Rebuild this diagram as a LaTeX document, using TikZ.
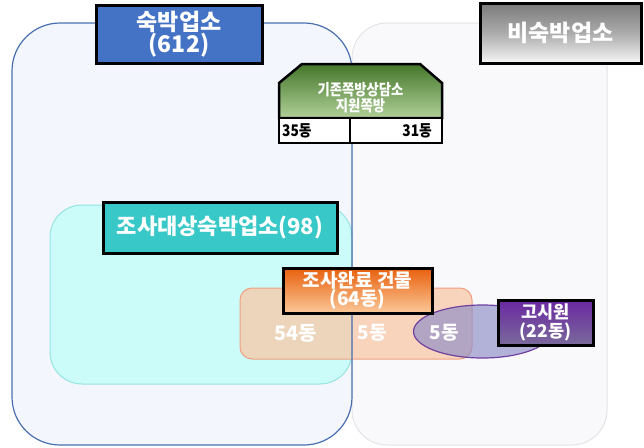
\documentclass[tikz,border=0pt]{standalone}
\usepackage{fontspec}
\newfontfamily\kr{Noto Sans CJK KR Black}
\newfontfamily\krn{Noto Sans CJK KR Black}[FakeStretch=0.86]
\definecolor{bluebg}{HTML}{F3F7FD}
\definecolor{blueline}{HTML}{4A6FB0}
\definecolor{graybg}{HTML}{F9F9FB}
\definecolor{grayline}{HTML}{E4E4E8}
\definecolor{cyanbg}{HTML}{CCFCF9}
\definecolor{cyanline}{HTML}{96E4E0}
\definecolor{peach}{HTML}{F9C8A8}
\definecolor{peachline}{HTML}{F0A080}
\definecolor{lav}{HTML}{8C8CC8}
\definecolor{purpline}{HTML}{7040A0}
\definecolor{lblblue}{HTML}{4472C4}
\definecolor{lblcyan}{HTML}{38C8C8}
\definecolor{grntop}{HTML}{44762A}
\definecolor{grnbot}{HTML}{B0D098}
\definecolor{orgtop}{HTML}{E8600E}
\definecolor{orgbot}{HTML}{FBC898}
\definecolor{purtop}{HTML}{6A28A0}
\definecolor{purbot}{HTML}{7A6A9C}
\definecolor{gtop}{HTML}{7A7A7A}
\definecolor{gbot}{HTML}{F6F6F6}
\newcommand\fsz[2]{\fontsize{#1}{#2}\selectfont}
\begin{document}
\begin{tikzpicture}[x=1pt,y=-1pt,
  lbl/.style={draw=black, line width=3pt, inner sep=0pt, text=white, align=center, anchor=center},
  numtxt/.style={text=white, inner sep=0pt, font=\kr\fsz{20}{20}},
  celltxt/.style={text=black, inner sep=0pt, font=\krn\fsz{16}{16}}]
\useasboundingbox (0,0) rectangle (644,447);
% regions
\path[fill=graybg, draw=grayline, line width=1pt, rounded corners=35pt] (352,23) rectangle (607,445);
\path[fill=bluebg, rounded corners=48pt] (12,23) rectangle (352,445);
\path[fill=cyanbg, draw=cyanline, line width=1pt, rounded corners=32pt] (50,205) rectangle (352,384);
\path[fill=peach, fill opacity=0.75, draw=peachline, line width=1pt, rounded corners=12pt] (240,288) rectangle (472,359);
\path[draw=blueline, line width=1.2pt, rounded corners=48pt] (12,23) rectangle (352,445);
\path[fill=lav, fill opacity=0.65, draw=purpline, line width=1.2pt] (482.5,331.5) ellipse [x radius=69pt, y radius=26.5pt];
% green box
\path[top color=grntop, bottom color=grnbot, draw=black, line width=2.5pt, line join=miter]
  (279,118) -- (279,83) -- (302,64) -- (420,64) -- (442,83) -- (442,118) -- cycle;
\path[fill=white, draw=black, line width=2.5pt] (279,118) rectangle (350,143);
\path[fill=white, draw=black, line width=2.5pt] (350,118) rectangle (442,143);
\node[text=white, inner sep=0pt, align=center, font=\krn\fsz{15.5}{16}] (support) at (360.5,98) {기존쪽방상담소\\지원쪽방};
\node[celltxt, anchor=west] (c35) at (282,131) {35동};
\node[celltxt, anchor=east] (c31) at (432,131) {31동};
% labels
\node[lbl, fill=lblblue, minimum width=166pt, minimum height=58pt, font=\kr\fsz{23}{22}] (lodging) at (179,34) {숙박업소\\(612)};
\node[lbl, top color=gtop, bottom color=gbot, middle color=gtop!60!gbot, minimum width=161pt, minimum height=60pt, font=\kr\fsz{23}{23}] (nonlodging) at (560.5,33) {비숙박업소};
\node[lbl, fill=lblcyan, minimum width=234pt, minimum height=51pt, font=\kr\fsz{22}{22}] (target) at (220,227.5) {조사대상숙박업소(98)};
\node[lbl, top color=orgtop, bottom color=orgbot, minimum width=149pt, minimum height=45pt, font=\kr\fsz{19}{17}] (done) at (357.5,290.5) {조사완료 건물\\(64동)};
\node[numtxt] (n54) at (296,333) {54동};
\node[numtxt, font=\kr\fsz{19}{19}] (n5a) at (372,333) {5동};
\node[numtxt, font=\kr\fsz{19}{19}] (n5b) at (444,333) {5동};
\node[lbl, top color=purtop, bottom color=purbot, minimum width=95pt, minimum height=45pt, font=\kr\fsz{17.5}{19}] (gosiwon) at (545.5,322.5) {고시원\\(22동)};
\end{tikzpicture}
\end{document}
